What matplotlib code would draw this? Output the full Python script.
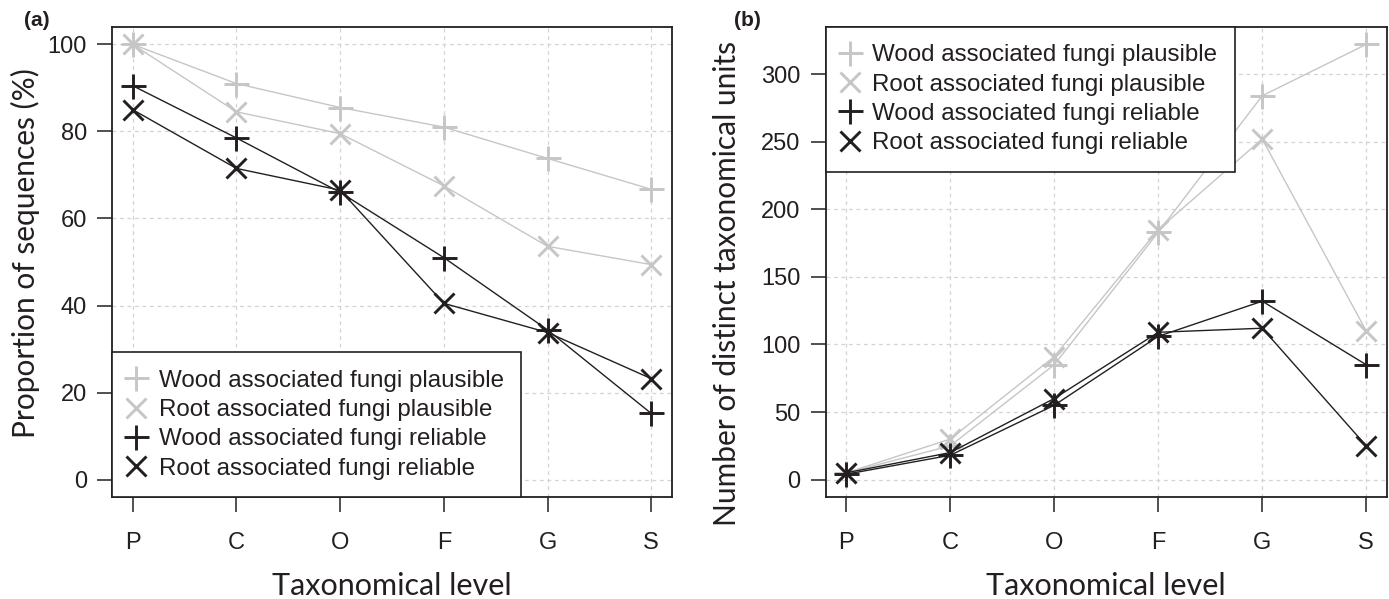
import matplotlib
matplotlib.use("Agg")
import matplotlib.pyplot as plt
from matplotlib.lines import Line2D

levels = ["P", "C", "O", "F", "G", "S"]

# Panel (a): proportion of sequences (%)
a_wood_plausible = [100, 91, 85.5, 81, 73.8, 66.7]
a_root_plausible = [100, 84.5, 79.5, 67.5, 53.6, 49.4]
a_wood_reliable = [90.5, 78.5, 66, 51, 34.4, 15.2]
a_root_reliable = [85, 71.5, 66.5, 40.5, 33.8, 23.2]
a_range = [0, 100]

# Panel (b): number of distinct taxonomical units
b_wood_plausible = [5, 25, 85, 183, 284, 322]
b_root_plausible = [5, 30, 91, 185, 252, 110]
b_wood_reliable = [4, 18, 55, 106, 132, 85]
b_root_reliable = [5, 20, 60, 109, 112, 25]
b_range = [0, 322]

series_labels = ["Wood associated fungi plausible", "Root associated fungi plausible",
                 "Wood associated fungi reliable", "Root associated fungi reliable"]

GRAY = "#c6c6c6"
BLACK = "#231f20"
styles = [(GRAY, "+", 18), (GRAY, "x", 14.5), (BLACK, "+", 18), (BLACK, "x", 14.5)]

TICKFONT = "Liberation Sans"
LABFONT = "Lato"

W, H = 1389, 599
fig = plt.figure(figsize=(W / 100, H / 100), dpi=100)


def make_axes(l, r, t, b):
    return fig.add_axes([l / W, 1 - b / H, (r - l) / W, (b - t) / H])


def draw(ax, data, yrange, yticks, ylabel, ylab_xy, legend_loc, panel, panel_x):
    x = list(range(1, len(levels) + 1))
    for vals, (c, m, ms) in zip(data, styles):
        ax.plot(x, vals, color=c, lw=1.0, marker=m, ms=ms, mew=2.1, zorder=3)
    ax.margins(x=0.04)
    ext = 0.04 * (yrange[1] - yrange[0])
    ax.set_ylim(yrange[0] - ext, yrange[1] + ext)
    ax.set_xticks(x)
    ax.set_xticklabels(levels)
    ax.set_yticks(yticks)
    ax.grid(True, color="#d3d3d3", ls=(0, (3, 3)), lw=0.9, zorder=0)
    for s in ax.spines.values():
        s.set_linewidth(1.3)
        s.set_color(BLACK)
    ax.tick_params(axis="both", direction="out", length=11, width=1.1, color=BLACK,
                   labelsize=17, labelcolor=BLACK)
    ax.tick_params(axis="x", pad=14)
    ax.tick_params(axis="y", pad=7)
    for lab in ax.get_xticklabels() + ax.get_yticklabels():
        lab.set_fontfamily(TICKFONT)
    ax.set_xlabel("Taxonomical level", fontsize=22, fontfamily=LABFONT, color=BLACK,
                  va="baseline")
    ax.xaxis.set_label_coords(0.5, -0.2085)
    ax.set_ylabel(ylabel, fontsize=21.5, fontfamily=LABFONT, color=BLACK, va="center")
    ax.yaxis.set_label_coords(*ylab_xy)

    handles = [Line2D([], [], color=c, marker=m, ms=ms, mew=2.1, ls="none")
               for (c, m, ms) in styles]
    leg = ax.legend(handles, series_labels, loc=legend_loc,
                    bbox_to_anchor=(0, 0, 1, 1), borderaxespad=0,
                    prop={"family": TICKFONT, "size": 17.4}, frameon=True,
                    fancybox=False, edgecolor=BLACK, framealpha=1,
                    borderpad=0.72, labelspacing=0.3, handlelength=0.55,
                    handletextpad=0.66)
    leg.get_frame().set_linewidth(1.2)
    for t in leg.get_texts():
        t.set_color(BLACK)
    leg.set_zorder(5)
    fig.text(panel_x / W, 1 - 21 / H, panel, fontsize=15, fontweight="bold",
             fontfamily=TICKFONT, color=BLACK, va="center", ha="left")


ax1 = make_axes(112, 672, 27, 497)
draw(ax1, [a_wood_plausible, a_root_plausible, a_wood_reliable, a_root_reliable],
     a_range, [0, 20, 40, 60, 80, 100], "Proportion of sequences (%)",
     ((25 - 112) / 560, (497 - 253) / 470), "lower left", "(a)", 24)

ax2 = make_axes(825.5, 1387, 27, 497)
draw(ax2, [b_wood_plausible, b_root_plausible, b_wood_reliable, b_root_reliable],
     b_range, [0, 50, 100, 150, 200, 250, 300], "Number of distinct taxonomical units",
     ((727 - 825.5) / 561.5, (497 - 284) / 470), "upper left", "(b)", 734)

fig.savefig("out.png", dpi=100)
